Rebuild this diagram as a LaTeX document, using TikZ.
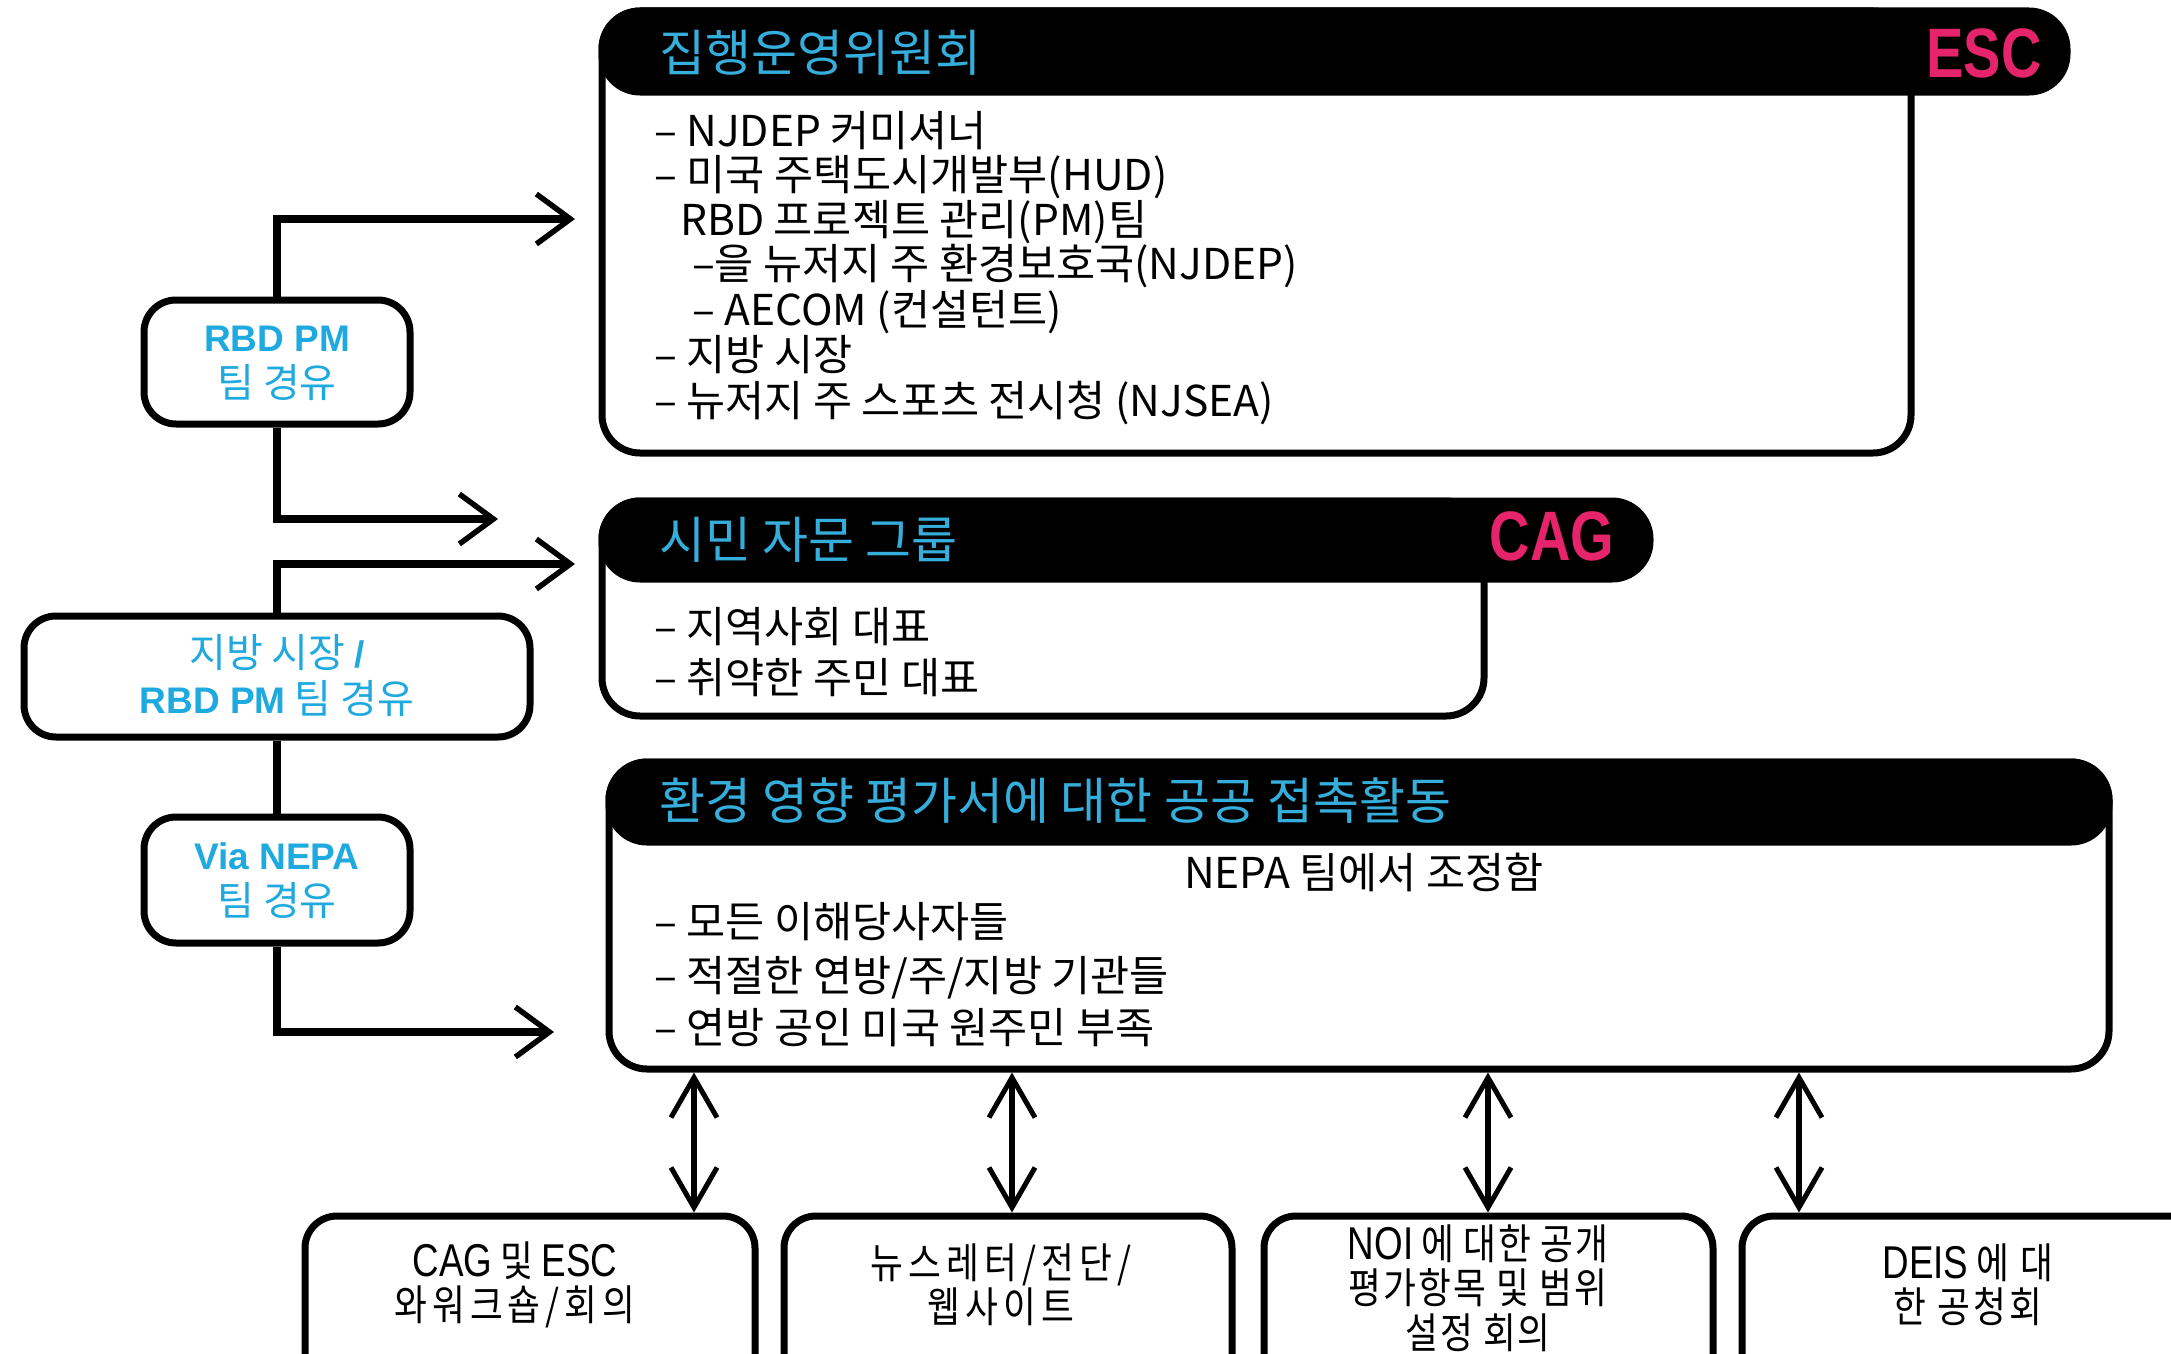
\documentclass[tikz,border=0pt]{standalone}
\usepackage{fontspec}
\usetikzlibrary{arrows.meta}
\newfontfamily\kr{Noto Sans CJK KR}
\newfontfamily\krc[FakeStretch=0.85]{Noto Sans CJK KR}
\newfontfamily\lsans{Liberation Sans}
\newfontfamily\tabfont[FakeStretch=0.8]{Liberation Sans}
\definecolor{cy}{HTML}{1EA9DF}
\definecolor{cyt}{HTML}{35AEDC}
\definecolor{pk}{HTML}{E6246B}
\newcommand{\lb}[1]{{\lsans\bfseries\fontsize{37}{46}\selectfont #1}}
\newcommand{\lc}[1]{{\tabfont\fontsize{46}{44.5}\selectfont #1}}
\begin{document}
\begin{tikzpicture}[x=1pt,y=-1pt,
  box/.style={draw=black, line width=7pt, fill=white, rounded corners=38pt, inner sep=0pt},
  hdr/.style={draw=black, fill=black, line width=7pt, rounded corners=38pt, inner sep=0pt},
  sbox/.style={draw=black, line width=7pt, fill=white, rounded corners=32pt, inner sep=0pt},
  bt/.style={anchor=base west, inner sep=0pt, font=\kr\fontsize{42.5}{46}\selectfont},
  tt/.style={anchor=base west, inner sep=0pt, text=cyt, font=\kr\fontsize{50}{54}\selectfont},
  tab/.style={inner sep=0pt, text=pk, font=\tabfont\bfseries\fontsize{70}{70}\selectfont},
  lt/.style={inner sep=0pt, align=center, text=cy, font=\kr\fontsize{40}{46}\selectfont},
  btx/.style={inner sep=0pt, align=center, font=\krc\fontsize{42}{44.5}\selectfont},
  conn/.style={line width=8pt, -{Straight Barb[length=34pt,width=50pt,line width=5.5pt]}},
  dbl/.style={line width=6pt, {Straight Barb[length=40pt,width=46pt,line width=5pt]}-{Straight Barb[length=40pt,width=46pt,line width=5pt]}}
]
\useasboundingbox (0,0) rectangle (2171,1354);

% ---- ESC ----
\node[box, minimum width=1309pt, minimum height=442pt] (esc) at (1256.5,232) {};
\node[hdr, minimum width=1465pt, minimum height=81pt] (eschdr) at (1334.5,51.5) {};
\node[tt] (esct) at (659,72) {집행운영위원회};
\node[tab] (esctab) at (1984,53) {ESC};
\node[bt] (e1) at (654,146) {– NJDEP 커미셔너};
\node[bt] (e2) at (654,190) {– 미국 주택도시개발부(HUD)};
\node[bt] (e3) at (680,235) {RBD 프로젝트 관리(PM)팀};
\node[bt] (e4) at (692,279) {–을 뉴저지 주 환경보호국(NJDEP)};
\node[bt] (e5) at (692,325) {– AECOM (컨설턴트)};
\node[bt] (e6) at (654,370) {– 지방 시장};
\node[bt] (e7) at (654,416) {– 뉴저지 주 스포츠 전시청 (NJSEA)};

% ---- CAG ----
\node[box, minimum width=882pt, minimum height=215pt] (cag) at (1043,608.5) {};
\node[hdr, minimum width=1048pt, minimum height=78pt] (caghdr) at (1126,540) {};
\node[tt] (cagt) at (659,558) {시민 자문 그룹};
\node[tab] (cagtab) at (1552,536) {CAG};
\node[bt] (c1) at (654,642) {– 지역사회 대표};
\node[bt] (c2) at (654,693) {– 취약한 주민 대표};

% ---- NEPA ----
\node[box, minimum width=1500pt, minimum height=307pt] (nepa) at (1359,915.5) {};
\node[hdr, minimum width=1500pt, minimum height=80pt] (nepahdr) at (1359,802) {};
\node[tt] (nepat) at (659,819) {환경 영향 평가서에 대한 공공 접촉활동};
\node[inner sep=0pt, font=\kr\fontsize{42.5}{46}\selectfont] (n0) at (1364,872) {NEPA 팀에서 조정함};
\node[bt] (n1) at (654,937) {– 모든 이해당사자들};
\node[bt] (n2) at (654,991) {– 적절한 연방/주/지방 기관들};
\node[bt] (n3) at (654,1043) {– 연방 공인 미국 원주민 부족};

% ---- left boxes ----
\node[sbox, minimum width=266pt, minimum height=124pt] (rbd) at (277,362) {};
\node[lt] (rbdt) at (277,363) {\lb{RBD PM}\\팀 경유};
\node[sbox, minimum width=506pt, minimum height=121pt] (loc) at (277,676.5) {};
\node[lt] (loct) at (277,676) {지방 시장 \lb{/}\\\lb{RBD PM} 팀 경유};
\node[sbox, minimum width=266pt, minimum height=126pt] (via) at (277,880) {};
\node[lt] (viat) at (277,881) {\lb{Via NEPA}\\팀 경유};

\coordinate (a1) at (575,219);
\coordinate (a2) at (498,519);
\coordinate (a3) at (575,564);
\coordinate (a4) at (554,1032);
\draw[conn] (rbd.north) |- (a1);
\draw[conn] (rbd.south) |- (a2);
\draw[conn] (loc.north) |- (a3);
\draw[line width=8pt] (loc.south) -- (via.north);
\draw[conn] (via.south) |- (a4);

% ---- bottom boxes ----
\node[sbox, minimum width=450pt, minimum height=240pt] (b1) at (530,1336) {};
\node[sbox, minimum width=448pt, minimum height=240pt] (b2) at (1008,1336) {};
\node[sbox, minimum width=449pt, minimum height=240pt] (b3) at (1488.5,1336) {};
\node[sbox, minimum width=508pt, minimum height=240pt] (b4) at (1996,1336) {};
\node[btx] (b1t) at (515,1285) {\lc{CAG} 및 \lc{ESC}\\\addfontfeature{LetterSpace=12}와워크숍/회의};
\node[btx] (b2t) at (1001,1285) {\addfontfeature{LetterSpace=12}뉴스레터/전단/\\\addfontfeature{LetterSpace=12}웹사이트};
\node[btx] (b3t) at (1478,1288) {\lc{NOI} \addfontfeature{LetterSpace=4}에 대한 공개\\\addfontfeature{LetterSpace=5}평가항목 및 범위\\\addfontfeature{LetterSpace=5}설정 회의};
\node[btx] (b4t) at (1968,1285) {\lc{DEIS} \addfontfeature{LetterSpace=8}에 대\\\addfontfeature{LetterSpace=8}한 공청회};

\coordinate (t1) at (694,1140);
\coordinate (t2) at (1012,1140);
\coordinate (t3) at (1488,1140);
\coordinate (t4) at (1799,1140);
\draw[dbl] (nepa.south -| t1) -- (b1.north -| t1);
\draw[dbl] (nepa.south -| t2) -- (b2.north -| t2);
\draw[dbl] (nepa.south -| t3) -- (b3.north -| t3);
\draw[dbl] (nepa.south -| t4) -- (b4.north -| t4);
\end{tikzpicture}
\end{document}
